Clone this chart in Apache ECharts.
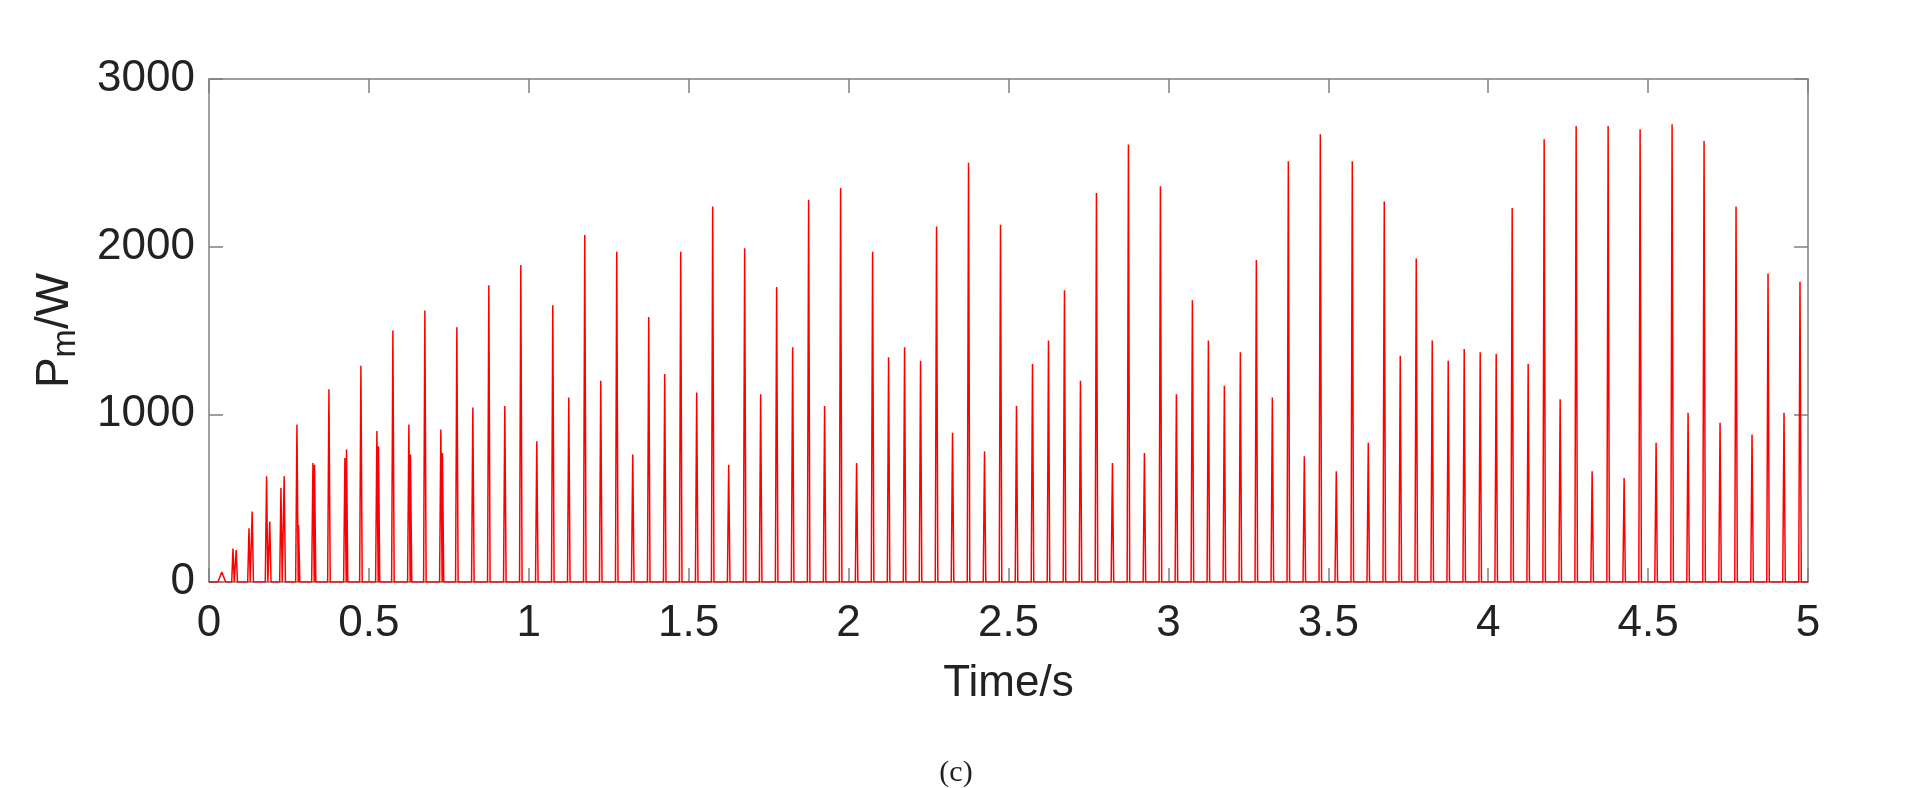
<!DOCTYPE html>
<html>
<head>
<meta charset="utf-8">
<script src="https://cdn.jsdelivr.net/npm/echarts@6/dist/echarts.min.js"></script>
<style>
html,body{margin:0;padding:0;background:#fff;}
#main{width:1912px;height:788px;}
</style>
</head>
<body>
<div id="main"></div>
<script>
// peak times (s) and peak power (W)
const peakTimes = [0.04,0.075,0.085,0.125,0.135,0.18,0.19,0.225,0.235,0.275,0.28,0.325,0.33,0.375,0.425,0.43,0.475,0.525,0.53,0.575,0.625,0.63,0.675,0.725,0.73,0.775,0.825,0.875,0.925,0.975,1.025,1.075,1.125,1.175,1.225,1.275,1.325,1.375,1.425,1.475,1.525,1.575,1.625,1.675,1.725,1.775,1.825,1.875,1.925,1.975,2.025,2.075,2.125,2.175,2.225,2.275,2.325,2.375,2.425,2.475,2.525,2.575,2.625,2.675,2.725,2.775,2.825,2.875,2.925,2.975,3.025,3.075,3.125,3.175,3.225,3.275,3.325,3.375,3.425,3.475,3.525,3.575,3.625,3.675,3.725,3.775,3.825,3.875,3.925,3.975,4.025,4.075,4.125,4.175,4.225,4.275,4.325,4.375,4.425,4.475,4.525,4.575,4.625,4.675,4.725,4.775,4.825,4.875,4.925,4.975];
const peakPower = [60,200,190,320,420,630,360,560,630,940,340,710,700,1150,740,790,1290,900,810,1500,940,760,1620,910,770,1520,1040,1770,1050,1890,840,1650,1100,2070,1200,1970,760,1580,1240,1970,1130,2240,700,1990,1120,1760,1400,2280,1050,2350,710,1970,1340,1400,1320,2120,890,2500,780,2130,1050,1300,1440,1740,1200,2320,710,2610,770,2360,1120,1680,1440,1170,1370,1920,1100,2510,750,2670,660,2510,830,2270,1350,1930,1440,1320,1390,1370,1360,2230,1300,2640,1090,2720,660,2720,620,2700,830,2730,1010,2630,950,2240,880,1840,1010,1790];

// each peak drawn as a narrow spike on the zero baseline
const line = [[0,0]];
peakTimes.forEach((t, i) => {
    const w = i === 0 ? 0.012 : 0.004;
    line.push([t - w, 0], [t, peakPower[i]], [t + w, 0]);
});
line.push([5,0]);

const chart = echarts.init(document.getElementById('main'));
const font = 'Liberation Sans, Arial, sans-serif';
function axisCommon() {
    return {
        axisLine: {show: true, onZero: false, lineStyle: {color: '#808080', width: 1.5}},
        axisTick: {show: true, inside: true, length: 14, lineStyle: {color: '#808080', width: 1.5}},
        splitLine: {show: false}
    };
}
chart.setOption({
    animation: false,
    grid: {left: 209, right: 104, top: 79, bottom: 206},
    xAxis: [
        Object.assign(axisCommon(), {
            type: 'value', min: 0, max: 5, interval: 0.5,
            name: 'Time/s', nameLocation: 'middle', nameGap: 80,
            nameTextStyle: {fontSize: 44, color: '#222', fontFamily: font},
            axisLabel: {fontSize: 44, color: '#222', fontFamily: font, margin: 20, formatter: v => String(v)}
        }),
        Object.assign(axisCommon(), {type: 'value', position: 'top', min: 0, max: 5, interval: 0.5, axisLabel: {show: false}})
    ],
    yAxis: [
        Object.assign(axisCommon(), {
            type: 'value', min: 0, max: 3000, interval: 1000,
            name: '{p|P}{s|m}{p|/W}', nameLocation: 'middle', nameGap: 126, nameRotate: 90,
            nameTextStyle: {rich: {
                p: {fontSize: 46, color: '#222', fontFamily: font},
                s: {fontSize: 34, color: '#222', fontFamily: font, padding: [22,0,0,0]}
            }},
            axisLabel: {fontSize: 44, color: '#222', fontFamily: font, margin: 14, formatter: v => String(v)}
        }),
        Object.assign(axisCommon(), {type: 'value', position: 'right', min: 0, max: 3000, interval: 1000, axisLabel: {show: false}})
    ],
    graphic: [{
        type: 'text', left: 'center', top: 758,
        style: {text: '(c)', font: '30px "Liberation Serif", "Times New Roman", serif', fill: '#222'}
    }],
    series: [{
        type: 'line', data: line, showSymbol: false, symbol: 'none',
        lineStyle: {color: '#ff0000', width: 1.5}
    }]
});
</script>
</body>
</html>
